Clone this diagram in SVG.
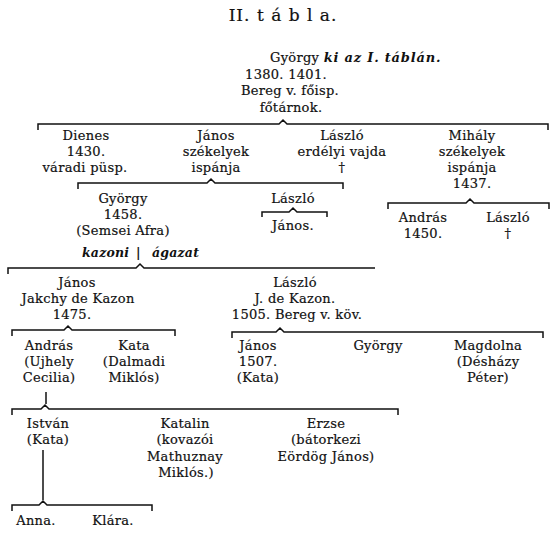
<svg xmlns="http://www.w3.org/2000/svg" width="560" height="545" viewBox="0 0 560 545">
<style>
.t{font-family:"DejaVu Serif","Liberation Serif",serif;font-size:13px;fill:#111;stroke:#111;stroke-width:0.2;text-anchor:middle;letter-spacing:0.3px}
.s{text-anchor:start}
.i{font-style:italic;font-weight:bold;stroke-width:0;letter-spacing:0.8px}
.k{font-size:12.5px;letter-spacing:0.2px}
.h{font-size:17px;letter-spacing:1px}
.c{fill:none;stroke:#111;stroke-width:1.5}
</style>
<rect width="560" height="545" fill="#fff"/>
<text class="t h" x="283" y="21">II. t á b l a.</text>
<g id="connectors">
<path class="c" d="M38,130 V124 H279 L283,120 L287,124 H548 V130"/>
<path class="c" d="M78,189 V183 H207 L211,179 L215,183 H343 V189"/>
<path class="c" d="M262,217 V212 H289 L293,208 L297,212 H327 V217"/>
<path class="c" d="M388,209 V203 H466 L470,199 L474,203 H549 V209"/>
<path class="c" d="M8,274 V268 H136 L140,264 L144,268 H375"/>
<path class="c" d="M12,336 V330 H64 L68,326 L72,330 H175 V336"/>
<path class="c" d="M232,338 V332 H276 L280,328 L284,332 H543 V338"/>
<path class="c" d="M46,392 V404"/>
<path class="c" d="M12,415 V409 H41 L45,405 L49,409 H398 V415"/>
<path class="c" d="M43,450 V500"/>
<path class="c" d="M12,511 V505 H39 L43,501 L47,505 H152 V511"/>
</g>
<g id="gyorgy1"><text class="t s" x="270" y="62">György <tspan class="i" letter-spacing="1.4">ki az I. táblán.</tspan></text>
<text class="t" x="286" y="79">1380. 1401.</text>
<text class="t" x="290" y="95">Bereg v. főisp.</text>
<text class="t" x="291" y="112">főtárnok.</text></g>
<g id="dienes"><text class="t" x="86" y="140">Dienes</text><text class="t" x="86" y="156">1430.</text><text class="t" x="85" y="172">váradi püsp.</text></g>
<g id="janos1"><text class="t" x="216" y="140">János</text><text class="t" x="216" y="156">székelyek</text><text class="t" x="216" y="172">ispánja</text></g>
<g id="laszlo1"><text class="t" x="342" y="140">László</text><text class="t" x="342" y="156">erdélyi vajda</text><text class="t" x="342" y="172">†</text></g>
<g id="mihaly"><text class="t" x="472" y="140">Mihály</text><text class="t" x="472" y="156">székelyek</text><text class="t" x="472" y="172">ispánja</text><text class="t" x="472" y="188">1437.</text></g>
<g id="gyorgy2"><text class="t" x="123" y="203">György</text><text class="t" x="123" y="219">1458.</text><text class="t" x="123" y="235">(Semsei Afra)</text></g>
<g id="laszlo2"><text class="t" x="293" y="203">László</text></g>
<g id="janos2"><text class="t" x="293" y="230">János.</text></g>
<g id="andras1"><text class="t" x="423" y="222">András</text><text class="t" x="423" y="238">1450.</text></g>
<g id="laszlo3"><text class="t" x="508" y="222">László</text><text class="t" x="508" y="238">†</text></g>
<g id="agazat"><text class="t i k s" y="257"><tspan x="82">kazoni</tspan><tspan x="136">|</tspan><tspan x="152">ágazat</tspan></text></g>
<g id="janos3"><text class="t" x="77" y="287">János</text><text class="t" x="78" y="303" letter-spacing="1">Jakchy de Kazon</text><text class="t" x="72" y="319">1475.</text></g>
<g id="laszlo4"><text class="t" x="295" y="287">László</text><text class="t" x="295" y="303">J. de Kazon.</text><text class="t" x="297" y="319">1505. Bereg v. köv.</text></g>
<g id="andras2"><text class="t" x="49" y="350">András</text><text class="t" x="49" y="366">(Ujhely</text><text class="t" x="49" y="382">Cecilia)</text></g>
<g id="kata1"><text class="t" x="134" y="350">Kata</text><text class="t" x="134" y="366">(Dalmadi</text><text class="t" x="134" y="382">Miklós)</text></g>
<g id="janos4"><text class="t" x="258" y="350">János</text><text class="t" x="258" y="366">1507.</text><text class="t" x="258" y="382">(Kata)</text></g>
<g id="gyorgy3"><text class="t" x="378" y="350">György</text></g>
<g id="magdolna"><text class="t" x="488" y="350">Magdolna</text><text class="t" x="488" y="366">(Désházy</text><text class="t" x="488" y="382">Péter)</text></g>
<g id="istvan"><text class="t" x="48" y="428">István</text><text class="t" x="48" y="444">(Kata)</text></g>
<g id="katalin"><text class="t" x="185" y="428">Katalin</text><text class="t" x="185" y="444">(kovazói</text><text class="t" x="185" y="461">Mathuznay</text><text class="t" x="186" y="477">Miklós.)</text></g>
<g id="erzse"><text class="t" x="326" y="428">Erzse</text><text class="t" x="326" y="444">(bátorkezi</text><text class="t" x="326" y="461">Eördög János)</text></g>
<g id="anna"><text class="t" x="36" y="525">Anna.</text></g>
<g id="klara"><text class="t" x="113" y="525">Klára.</text></g>
</svg>
